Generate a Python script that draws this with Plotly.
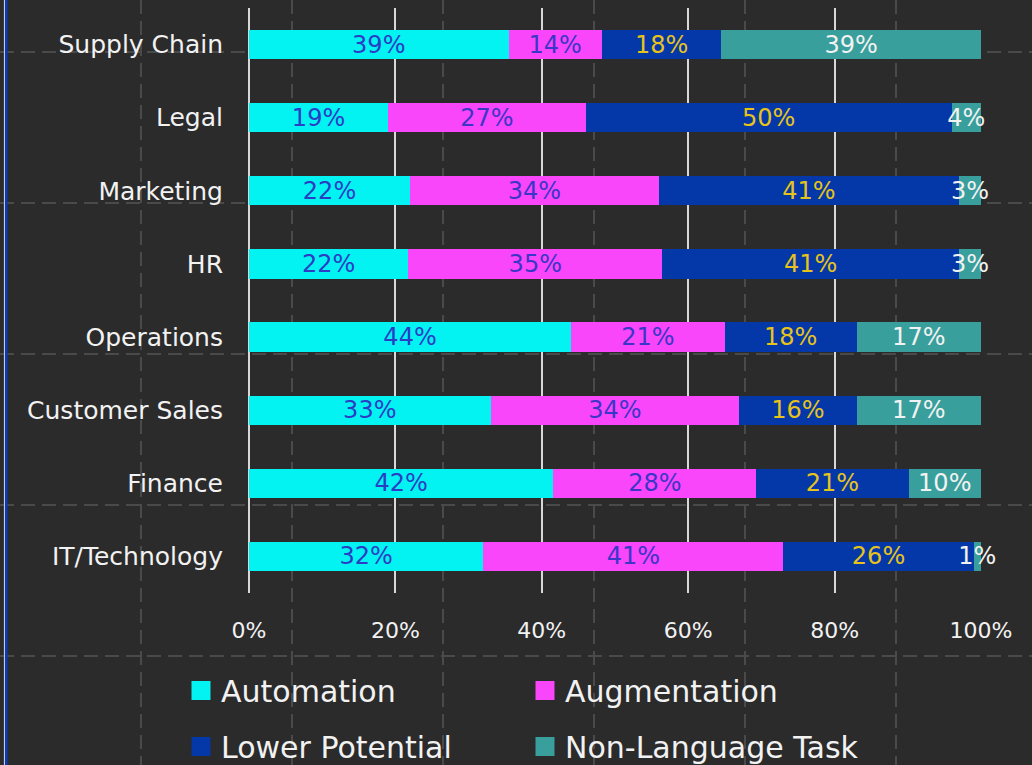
import plotly.graph_objects as go

# departments, top to bottom
departments = ["Supply Chain", "Legal", "Marketing", "HR", "Operations",
               "Customer Sales", "Finance", "IT/Technology"]

automation = [39, 19, 22, 22, 44, 33, 42, 32]
augmentation = [14, 27, 34, 35, 21, 34, 28, 41]
lowerPotential = [18, 50, 41, 41, 18, 16, 21, 26]
nonLanguage = [39, 4, 3, 3, 17, 17, 10, 1]

seriesNames = ["Automation", "Augmentation", "Lower Potential", "Non-Language Task"]
seriesValues = [automation, augmentation, lowerPotential, nonLanguage]
barColors = ['#03f2f2', '#fa46fa', '#0437a8', '#399f9c']
labelColors = ['#2b3dc4', '#3a36c8', '#e6c31a', '#f2f2f2']
legendRows = ['legend', 'legend', 'legend2', 'legend2']

xTicks = [0, 20, 40, 60, 80, 100]

bgColor = '#2b2b2b'
fontName = 'DejaVu Sans'

W, H = 1032, 765
ml, mr, mt, mb = 249, 51, 8, 172
plotW = W - ml - mr
plotH = H - mt - mb


def px_x(px):
    return (px - ml) / plotW


def px_y(py):
    return (H - mb - py) / plotH


fig = go.Figure()

for name, vals, col, tcol in zip(seriesNames, seriesValues, barColors, labelColors):
    fig.add_trace(go.Bar(
        y=departments,
        x=vals,
        name=name,
        orientation='h',
        marker=dict(color=col, line=dict(width=0)),
        text=vals,
        texttemplate='%{text}%',
        textposition='inside',
        insidetextanchor='middle',
        constraintext='none',
        textangle=0,
        textfont=dict(color=tcol, size=24, family=fontName),
        cliponaxis=False,
        showlegend=False,
        hoverinfo='skip',
    ))

# legend entries (bigger square symbols than bar legend icons)
for name, col, lg in zip(seriesNames, barColors, legendRows):
    fig.add_trace(go.Scatter(
        x=[None], y=[None], mode='markers', name=name, legend=lg,
        marker=dict(symbol='square', size=16, color=col, line=dict(color=col, width=3)),
    ))

# page decoration: dashed background grid and left border
shapes = []
for k in range(-1, 8):
    x = 141 + 151 * k
    shapes.append(dict(type='line', xref='paper', yref='paper', layer='below',
                       x0=px_x(x), x1=px_x(x), y0=px_y(0), y1=px_y(H),
                       line=dict(color='#4a4a4a', width=2, dash='14px,7px')))
for k in range(-1, 6):
    y = 52 + 151 * k
    shapes.append(dict(type='line', xref='paper', yref='paper', layer='below',
                       x0=px_x(0), x1=px_x(W), y0=px_y(y), y1=px_y(y),
                       line=dict(color='#4a4a4a', width=2, dash='14px,7px')))
shapes.append(dict(type='line', xref='paper', yref='paper',
                   x0=px_x(4.5), x1=px_x(4.5), y0=px_y(0), y1=px_y(H),
                   line=dict(color='#c4cbd8', width=1.2)))
shapes.append(dict(type='line', xref='paper', yref='paper',
                   x0=px_x(6.3), x1=px_x(6.3), y0=px_y(0), y1=px_y(H),
                   line=dict(color='#0a3ab8', width=2.6)))

legendStyle = dict(orientation='h', xanchor='left', yanchor='middle',
                   x=px_x(181), entrywidth=299, entrywidthmode='pixels',
                   font=dict(color='#f2f2f2', size=30, family=fontName),
                   bgcolor='rgba(0,0,0,0)', borderwidth=0, traceorder='normal')

fig.update_layout(
    barmode='stack',
    barnorm='percent',
    bargap=0.6,
    width=W,
    height=H,
    margin=dict(l=ml, r=mr, t=mt, b=mb, autoexpand=False),
    paper_bgcolor=bgColor,
    plot_bgcolor='rgba(0,0,0,0)',
    font=dict(family=fontName, color='#f2f2f2'),
    shapes=shapes,
    legend=dict(legendStyle, y=px_y(690.5)),
    legend2=dict(legendStyle, y=px_y(746.5)),
    xaxis=dict(
        range=[0, 100],
        tickvals=xTicks,
        ticktext=[f'{t}%' for t in xTicks],
        showgrid=True,
        gridcolor='#d8d8d8',
        gridwidth=2,
        zeroline=True,
        zerolinecolor='#d8d8d8',
        zerolinewidth=2,
        showline=False,
        ticks='',
        ticklabelstandoff=22,
        tickfont=dict(size=22, color='#f2f2f2', family=fontName),
        fixedrange=True,
    ),
    yaxis=dict(
        autorange='reversed',
        showgrid=False,
        zeroline=False,
        showline=False,
        ticks='',
        ticklabelstandoff=25,
        tickfont=dict(size=25, color='#f2f2f2', family=fontName),
        fixedrange=True,
    ),
)

# the page's default body margin would push the figure 8px off the corner
fig.write_html("out.html",
               config={'displayModeBar': False},
               post_script="document.body.style.margin='0';"
                           "document.body.style.background='%s';" % bgColor)
